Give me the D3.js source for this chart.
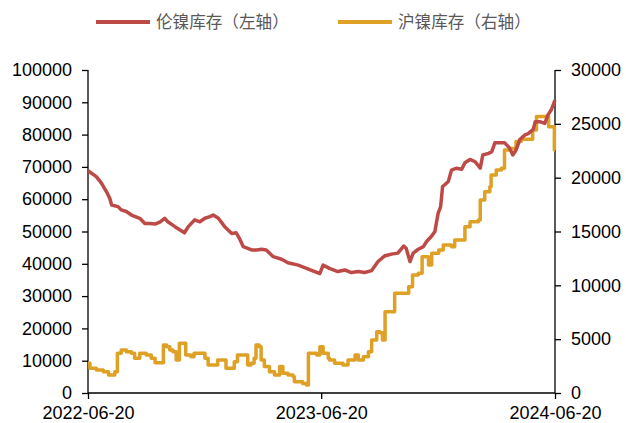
<!DOCTYPE html>
<html>
<head>
<meta charset="utf-8">
<script src="https://cdn.jsdelivr.net/npm/d3@7"></script>
<style>
  html, body { margin: 0; padding: 0; background: #fff; }
  svg { display: block; }
  .tick text { font-family: "Liberation Sans", Arial, sans-serif; font-size: 18px; fill: #000; }
  .legend text { font-family: "Noto Sans CJK SC", sans-serif; font-size: 16.6px; fill: #595959; }
</style>
</head>
<body>
<svg id="chart" width="626" height="423"></svg>
<script>
// LME nickel stocks (tonnes, left axis)
const lmeDates = ["2022-06-20","2022-07-03","2022-07-11","2022-07-19","2022-07-24","2022-07-27","2022-08-06","2022-08-11","2022-08-19","2022-08-27","2022-09-09","2022-09-17","2022-09-25","2022-10-03","2022-10-11","2022-10-18","2022-10-23","2022-11-03","2022-11-18","2022-11-24","2022-12-04","2022-12-12","2022-12-20","2022-12-28","2023-01-02","2023-01-10","2023-01-20","2023-01-31","2023-02-07","2023-02-12","2023-02-18","2023-03-03","2023-03-11","2023-03-19","2023-03-26","2023-04-06","2023-04-19","2023-04-29","2023-05-15","2023-05-28","2023-06-10","2023-06-18","2023-06-23","2023-07-03","2023-07-16","2023-07-27","2023-08-06","2023-08-17","2023-08-27","2023-09-07","2023-09-17","2023-09-27","2023-10-08","2023-10-18","2023-10-27","2023-10-31","2023-11-06","2023-11-11","2023-11-19","2023-11-27","2023-12-02","2023-12-10","2023-12-15","2023-12-20","2023-12-24","2023-12-27","2023-12-30","2024-01-05","2024-01-10","2024-01-18","2024-01-26","2024-01-31","2024-02-08","2024-02-16","2024-02-24","2024-02-28","2024-03-08","2024-03-13","2024-03-18","2024-04-02","2024-04-10","2024-04-15","2024-04-20","2024-04-26","2024-05-04","2024-05-09","2024-05-17","2024-05-20","2024-05-27","2024-06-04","2024-06-09","2024-06-14","2024-06-20"];
const lmeStocks = [68800,67000,65000,62300,60300,58200,57700,56700,56200,55100,54100,52500,52500,52300,53000,54100,53000,51500,49600,51500,53600,53000,54100,54600,55100,54100,51500,49400,49600,47900,45300,44300,44300,44500,44300,42200,41400,40300,39600,38600,37600,37000,39600,38600,37600,38100,37300,37600,37300,37900,40700,42400,43000,43300,45500,44800,40700,43300,44500,45300,46900,48600,50000,55600,57700,63900,64400,65500,69000,69600,69300,71300,72300,71600,69600,73700,74200,74700,77500,77500,75800,73700,75200,78500,79900,80300,81600,84000,84000,83500,86100,87600,90700];

// SHFE nickel stocks (tonnes, right axis)
const shfeDates = ["2022-06-20","2022-06-23","2022-07-03","2022-07-14","2022-07-22","2022-08-01","2022-08-05","2022-08-11","2022-08-19","2022-08-27","2022-09-01","2022-09-09","2022-09-19","2022-09-27","2022-10-03","2022-10-16","2022-10-21","2022-10-26","2022-10-31","2022-11-05","2022-11-10","2022-11-20","2022-11-28","2022-12-03","2022-12-20","2022-12-25","2023-01-09","2023-01-22","2023-02-04","2023-02-09","2023-02-25","2023-03-02","2023-03-07","2023-03-10","2023-03-15","2023-03-18","2023-03-23","2023-03-31","2023-04-08","2023-04-16","2023-04-21","2023-04-29","2023-05-07","2023-05-09","2023-05-22","2023-05-28","2023-05-31","2023-06-13","2023-06-18","2023-06-23","2023-07-01","2023-07-03","2023-07-11","2023-07-24","2023-08-01","2023-08-12","2023-08-17","2023-08-25","2023-09-02","2023-09-07","2023-09-15","2023-09-20","2023-09-24","2023-09-28","2023-10-13","2023-11-04","2023-11-10","2023-11-19","2023-11-25","2023-12-05","2023-12-10","2023-12-21","2023-12-28","2024-01-10","2024-01-15","2024-01-31","2024-02-08","2024-02-21","2024-02-24","2024-03-02","2024-03-10","2024-03-12","2024-03-20","2024-03-28","2024-04-02","2024-04-10","2024-04-20","2024-04-28","2024-05-16","2024-05-22","2024-06-10","2024-06-16","2024-06-19","2024-06-20"];
const shfeStocks = [2760,2290,2140,1980,1670,1980,3690,4000,3840,3690,3220,3690,3530,3220,2810,4460,4300,4000,3840,3070,4620,3530,3370,3690,3220,2600,3070,2290,2910,3530,2600,2760,3220,4460,4300,3070,2450,1980,1670,2450,1830,1670,1520,1050,890,740,3690,3530,4300,3690,3220,3070,2760,2600,3070,3530,3070,3370,3840,4920,5690,5600,4920,7550,9260,9880,10960,11120,12660,11890,12970,13280,13750,13590,14210,15450,15910,16070,17930,18700,19160,20250,20710,20870,22570,22720,23350,23560,24430,25670,24740,24740,22570,22570];

const leftTicks = [0,10000,20000,30000,40000,50000,60000,70000,80000,90000,100000];
const rightTicks = [0,5000,10000,15000,20000,25000,30000];
const dateTicks = ["2022-06-20","2023-06-20","2024-06-20"];
const seriesNames = ["伦镍库存（左轴）","沪镍库存（右轴）"];
const seriesColors = ["#BD4A47","#DFA026"];

const parse = d3.timeParse("%Y-%m-%d");
const fmt = d3.timeFormat("%Y-%m-%d");

const svg = d3.select("#chart");
const plot = { left: 88, right: 555, top: 70, bottom: 393 };

const x = d3.scaleTime()
  .domain([parse("2022-06-20"), parse("2024-06-20")])
  .range([plot.left, plot.right]);
const yL = d3.scaleLinear().domain([0, 100000]).range([plot.bottom, plot.top]);
const yR = d3.scaleLinear().domain([0, 30000]).range([plot.bottom, plot.top]);

// axes
const axL = svg.append("g").attr("transform", `translate(${plot.left},0)`)
  .call(d3.axisLeft(yL).tickValues(leftTicks).tickFormat(d3.format("d")).tickSize(6).tickPadding(10));
const axR = svg.append("g").attr("transform", `translate(${plot.right},0)`)
  .call(d3.axisRight(yR).tickValues(rightTicks).tickFormat(d3.format("d")).tickSize(6).tickPadding(10));
const axB = svg.append("g").attr("transform", `translate(0,${plot.bottom})`)
  .call(d3.axisBottom(x).tickValues(dateTicks.map(parse)).tickFormat(fmt).tickSize(6).tickPadding(7));

[axL, axR, axB].forEach(g => {
  g.select(".domain").attr("stroke", "#000").attr("stroke-width", 1.3);
  g.selectAll(".tick line").attr("stroke", "#000").attr("stroke-width", 1.3);
});
axL.select(".domain").attr("d", `M0,${plot.bottom}V${plot.top}`);
axR.select(".domain").attr("d", `M0,${plot.bottom}V${plot.top}`);
axB.select(".domain").attr("d", `M${plot.left},0H${plot.right}`);

// series lines
const lmeData = lmeDates.map((d, i) => ({ date: parse(d), v: lmeStocks[i] }));
const shfeData = shfeDates.map((d, i) => ({ date: parse(d), v: shfeStocks[i] }));

svg.append("path")
  .datum(shfeData)
  .attr("fill", "none")
  .attr("stroke", seriesColors[1])
  .attr("stroke-width", 3.5)
  .attr("stroke-linejoin", "round")
  .attr("d", d3.line().x(d => x(d.date)).y(d => yR(d.v)).curve(d3.curveStepAfter));

svg.append("path")
  .datum(lmeData)
  .attr("fill", "none")
  .attr("stroke", seriesColors[0])
  .attr("stroke-width", 3.5)
  .attr("stroke-linejoin", "round")
  .attr("d", d3.line().x(d => x(d.date)).y(d => yL(d.v)));

// legend
const legend = svg.append("g").attr("class", "legend");
const legendX = [96, 338];
seriesNames.forEach((name, i) => {
  const g = legend.append("g").attr("transform", `translate(${legendX[i]},22)`);
  g.append("line").attr("x1", 0).attr("x2", 54).attr("y1", 0).attr("y2", 0)
    .attr("stroke", seriesColors[i]).attr("stroke-width", 4);
  g.append("text").attr("x", 60).attr("y", 0).attr("dy", "0.35em").text(name);
});
</script>
</body>
</html>
